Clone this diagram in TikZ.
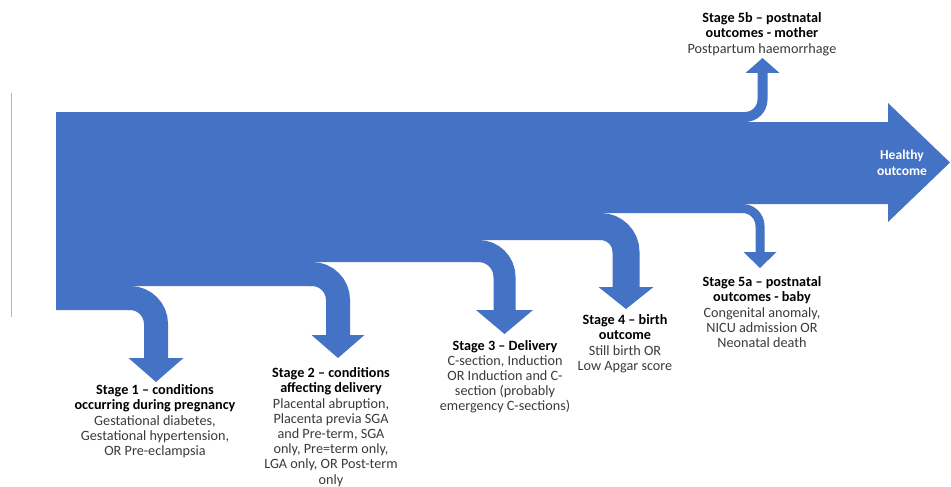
\documentclass[tikz,border=0pt]{standalone}
\usepackage{fontspec}
\setmainfont{Carlito}
\definecolor{flowblue}{HTML}{4472C4}
\definecolor{bodygray}{HTML}{3A3A3A}
\definecolor{rulegray}{HTML}{A7BAC9}
\newcommand{\hd}[1]{\textcolor{black}{\textbf{#1}}}

\begin{document}
\begin{tikzpicture}[x=1pt, y=-1pt,
  branch/.style={draw=flowblue, rounded corners=#1},
  stage/.style={align=center, inner sep=0pt, text=bodygray, font=\fontsize{14.2}{15.2}\selectfont}]
\useasboundingbox (0,0) rectangle (951,487);

% main band, stepped where the branches leave it
\fill[flowblue] (56,112) -- (745,112) -- (745,122) -- (888,122) -- (888,103) -- (950,162.5)
  -- (888,222) -- (888,204) -- (742.5,204) -- (742.5,213) -- (600.5,213) -- (600.5,240)
  -- (478.5,240) -- (478.5,262) -- (312,262) -- (312,286) -- (130,286) -- (130,310) -- (56,310) -- cycle;

% branches
\draw[branch=26pt, line width=24pt] (128,298) -- (156,298) -- (156,359);
\draw[branch=26pt, line width=24pt] (310,274) -- (338,274) -- (338,336);
\draw[branch=26pt, line width=22pt] (476.5,251) -- (504.5,251) -- (504.5,311);
\draw[branch=25.5pt, line width=27pt] (598.5,226.5) -- (626,226.5) -- (626,288);
\draw[branch=17.5pt, line width=9pt] (740.5,208.5) -- (760,208.5) -- (760,253);
\draw[branch=17.5pt, line width=10pt] (743,117) -- (762.5,117) -- (762.5,72);

% heads
\coordinate (tip1) at (156,382);
\coordinate (tip2) at (338,358);
\coordinate (tip3) at (504.5,334);
\coordinate (tip4) at (626,309);
\coordinate (tip5a) at (760,268);
\coordinate (tip5b) at (762.5,58);
\fill[flowblue] (128.5,358) -- (183.5,358) -- (tip1) -- cycle;
\fill[flowblue] (311.5,335) -- (364.5,335) -- (tip2) -- cycle;
\fill[flowblue] (476,310) -- (533,310) -- (tip3) -- cycle;
\fill[flowblue] (598.5,287) -- (653.5,287) -- (tip4) -- cycle;
\fill[flowblue] (743.5,252) -- (776.5,252) -- (tip5a) -- cycle;
\fill[flowblue] (745.5,73) -- (779.5,73) -- (tip5b) -- cycle;

\draw[rulegray, line width=1pt] (11,93) -- (11,317);

% labels
\node[stage, text=white, font=\bfseries\fontsize{13.6}{15.7}\selectfont] (healthy) at (902,163) {Healthy\\outcome};
\node[stage, anchor=north] (stage1) at (155,384.5) {\hd{Stage 1 – conditions}\\\hd{occurring during pregnancy}\\Gestational diabetes,\\Gestational hypertension,\\OR Pre-eclampsia};
\node[stage, anchor=north] (stage2) at (331,367.5) {\hd{Stage 2 – conditions}\\\hd{affecting delivery}\\Placental abruption,\\Placenta previa SGA\\and Pre-term, SGA\\only, Pre=term only,\\LGA only, OR Post-term\\only};
\node[stage, anchor=north] (stage3) at (505,340) {\hd{Stage 3 – Delivery}\\C-section, Induction\\OR Induction and C-\\section (probably\\emergency C-sections)};
\node[stage, anchor=north] (stage4) at (625,314.5) {\hd{Stage 4 – birth}\\\hd{outcome}\\Still birth OR\\Low Apgar score};
\node[stage, anchor=north] (stage5a) at (762,276.5) {\hd{Stage 5a – postnatal}\\\hd{outcomes - baby}\\Congenital anomaly,\\NICU admission OR\\Neonatal death};
\node[stage, anchor=north, font=\fontsize{14.2}{15.8}\selectfont] (stage5b) at (762,12) {\hd{Stage 5b – postnatal}\\\hd{outcomes - mother}\\Postpartum haemorrhage};
\end{tikzpicture}
\end{document}
